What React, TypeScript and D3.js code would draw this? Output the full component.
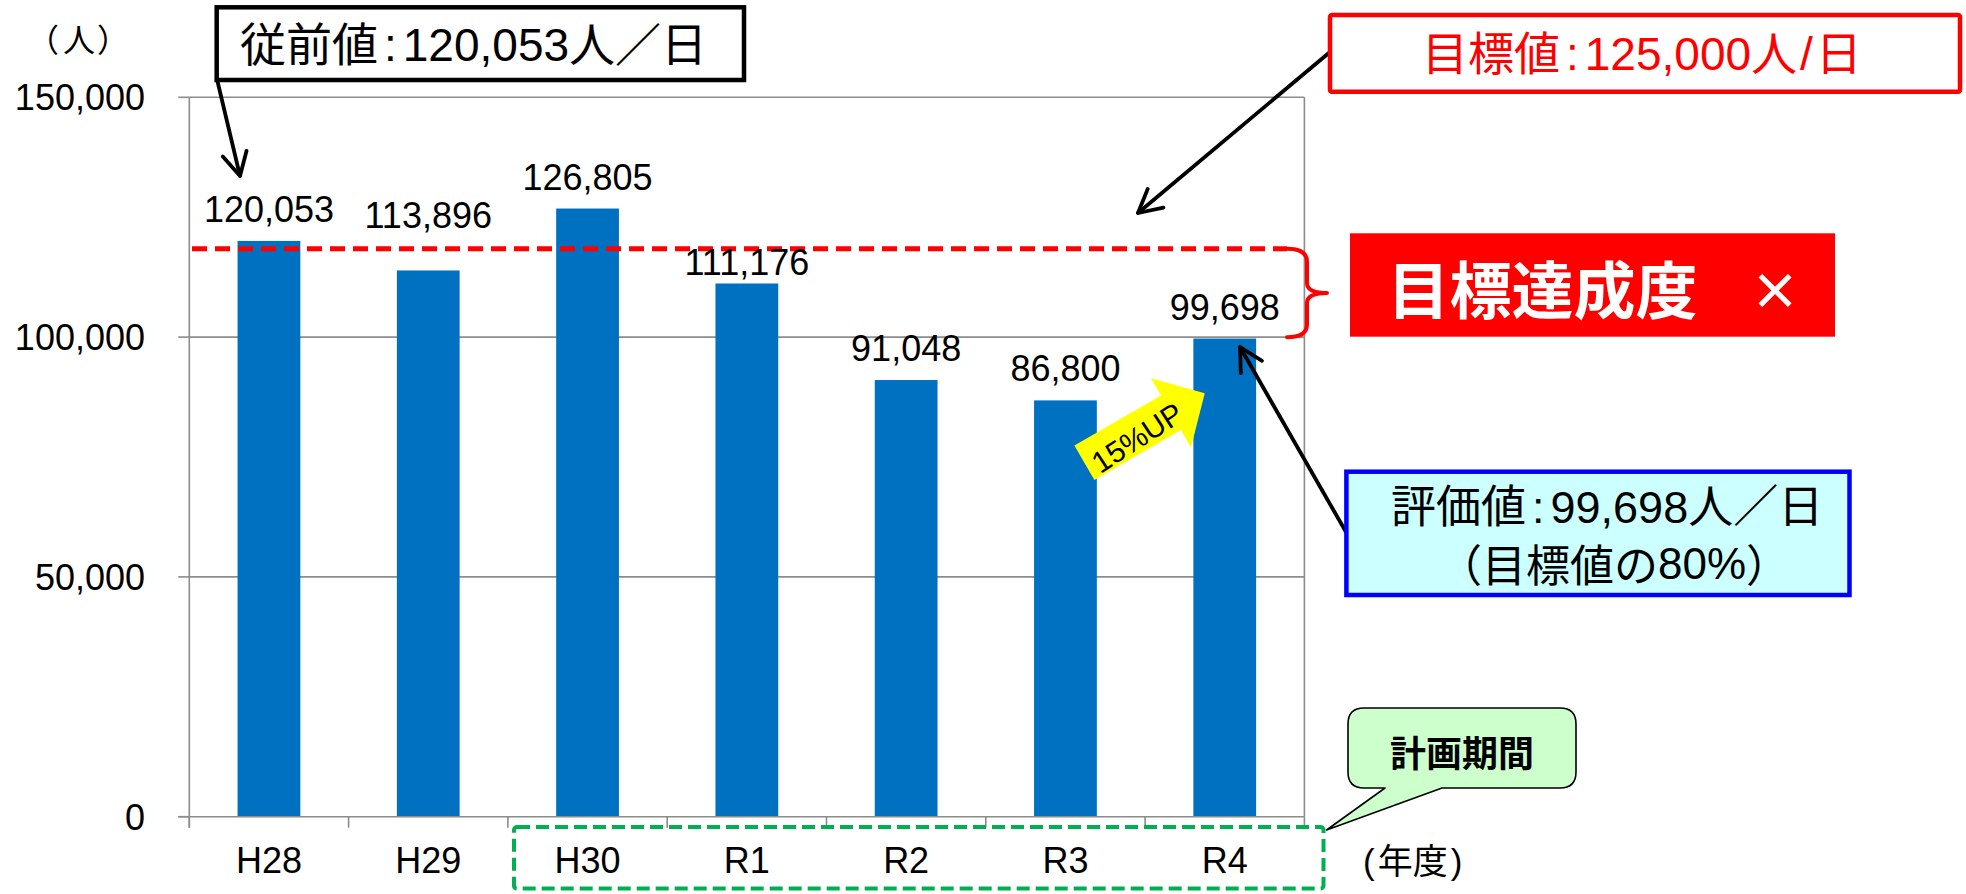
import React from "react";
import * as d3 from "d3";

const categories = ["H28", "H29", "H30", "R1", "R2", "R3", "R4"];
const values = [120053, 113896, 126805, 111176, 91048, 86800, 99698];
const yTicks = [0, 50000, 100000, 150000];
const refLineValue = 118400;

const W = 1966;
const H = 894;
const LATIN = "'Liberation Sans', Arial, 'Noto Sans CJK JP', sans-serif";
const CJK = "'Noto Sans CJK JP', 'Liberation Sans', sans-serif";

const plot = { left: 189.3, right: 1304.4, top: 97.3, bottom: 816.7 };

function Arrow({ x1, y1, x2, y2, len = 26, ang = 28, w = 3.8 }: any) {
  const a = Math.atan2(y2 - y1, x2 - x1);
  const r = (ang * Math.PI) / 180;
  const p1 = [x2 - len * Math.cos(a - r), y2 - len * Math.sin(a - r)];
  const p2 = [x2 - len * Math.cos(a + r), y2 - len * Math.sin(a + r)];
  return (
    <g stroke="#000" strokeWidth={w} fill="none" strokeLinecap="round" strokeLinejoin="round">
      <line x1={x1} y1={y1} x2={x2} y2={y2} />
      <polyline points={`${p1[0]},${p1[1]} ${x2},${y2} ${p2[0]},${p2[1]}`} />
    </g>
  );
}

export default function App() {
  const x = d3
    .scaleBand<string>()
    .domain(categories)
    .range([plot.left, plot.right])
    .paddingInner(0.606)
    .paddingOuter(0.303);
  const y = d3.scaleLinear().domain([0, 150000]).range([plot.bottom, plot.top]);
  const fmt = d3.format(",");
  const step = x.step();
  const refY = y(refLineValue);
  // manual label nudges (layout only)
  const labelShift: Record<string, number> = { H29: -23, R1: 11 };

  const grid = "#8c8c8c";

  const cx0 = 1348, cx1 = 1576, cy0 = 708, cy1 = 788, cr = 16;
  const callout = `M ${cx0 + cr} ${cy0} L ${cx1 - cr} ${cy0} Q ${cx1} ${cy0} ${cx1} ${cy0 + cr} L ${cx1} ${cy1 - cr} Q ${cx1} ${cy1} ${cx1 - cr} ${cy1} L 1442 ${cy1} L 1326.6 830 L 1385 ${cy1} L ${cx0 + cr} ${cy1} Q ${cx0} ${cy1} ${cx0} ${cy1 - cr} L ${cx0} ${cy0 + cr} Q ${cx0} ${cy0} ${cx0 + cr} ${cy0} Z`;

  const bTop = refY, bBot = 337.3, bMid = (refY + 337.3) / 2;
  const bracket = `M 1287 ${bTop} Q 1307 ${bTop} 1307 ${bTop + 13} L 1307 ${bMid - 10} Q 1307 ${bMid} 1327 ${bMid} Q 1307 ${bMid} 1307 ${bMid + 10} L 1307 ${bBot - 13} Q 1307 ${bBot} 1287 ${bBot}`;

  return (
    <svg
      width={W}
      height={H}
      style={{ position: "absolute", left: 0, top: 0, display: "block", background: "#fff" }}
    >
      <rect x={0} y={0} width={W} height={H} fill="#fff" />

      {yTicks.filter((t) => t > 0).map((t) => (
        <line key={t} x1={plot.left} x2={plot.right} y1={y(t)} y2={y(t)} stroke={grid} strokeWidth={1.6} />
      ))}
      <line x1={plot.right} x2={plot.right} y1={plot.top} y2={plot.bottom} stroke={grid} strokeWidth={1.6} />

      {categories.map((c, i) => (
        <rect
          key={c}
          x={x(c)}
          y={y(values[i])}
          width={x.bandwidth()}
          height={plot.bottom - y(values[i])}
          fill="#0070C0"
        />
      ))}

      <line x1={plot.left} x2={plot.left} y1={plot.top} y2={plot.bottom + 11} stroke={grid} strokeWidth={1.6} />
      <line x1={plot.left - 11} x2={plot.right} y1={plot.bottom} y2={plot.bottom} stroke={grid} strokeWidth={1.6} />
      {yTicks.map((t) => (
        <line key={"yt" + t} x1={plot.left - 11} x2={plot.left} y1={y(t)} y2={y(t)} stroke={grid} strokeWidth={1.6} />
      ))}
      {d3.range(categories.length + 1).map((i) => (
        <line
          key={"xt" + i}
          x1={plot.left + i * step}
          x2={plot.left + i * step}
          y1={plot.bottom}
          y2={plot.bottom + 11}
          stroke={grid}
          strokeWidth={1.6}
        />
      ))}

      {yTicks.map((t) => (
        <text key={"yl" + t} x={145} y={y(t) + 13} textAnchor="end" fontFamily={LATIN} fontSize={36} fill="#000">
          {fmt(t)}
        </text>
      ))}
      {categories.map((c) => (
        <text key={"xl" + c} x={(x(c) as number) + x.bandwidth() / 2} y={873} textAnchor="middle" fontFamily={LATIN} fontSize={36} fill="#000">
          {c}
        </text>
      ))}

      <line x1={192} x2={1287} y1={refY} y2={refY} stroke="#FF0000" strokeWidth={5} strokeDasharray="15 8" />
      <path d={bracket} fill="none" stroke="#FF0000" strokeWidth={4} strokeLinejoin="round" strokeLinecap="round" />

      {categories.map((c, i) => (
        <text
          key={"dl" + c}
          x={(x(c) as number) + x.bandwidth() / 2}
          y={y(values[i]) - 19 + (labelShift[c] || 0)}
          textAnchor="middle"
          fontFamily={LATIN}
          fontSize={36}
          fill="#000"
        >
          {fmt(values[i])}
        </text>
      ))}

      {/* unit labels */}
      <text x={27} y={52} fontFamily={CJK} fontSize={32} fill="#000">
        （<tspan dx={4}>人</tspan><tspan dx={2}>）</tspan>
      </text>
      <text x={1363} y={874} fontFamily={LATIN} fontSize={35} fill="#000">
        (<tspan dx={3} fontFamily={CJK}>年度</tspan><tspan dx={3}>)</tspan>
      </text>

      <rect x={514} y={827} width={1323.5 - 514} height={888.5 - 827} rx={3} fill="none" stroke="#00B050" strokeWidth={4} strokeDasharray="13 6" />

      <path d={callout} fill="#CCFFCC" stroke="#000" strokeWidth={1.6} strokeLinejoin="round" />
      <text x={1462} y={751} textAnchor="middle" dominantBaseline="central" fontFamily={CJK} fontWeight={700} fontSize={36}>計画期間</text>

      <g transform="translate(1145,427.8) rotate(-30)">
        <polygon points="-70,-20 30,-20 30,-40 69,0 30,40 30,20 -70,20" fill="#FFFF00" />
        <text x={-12} y={4} textAnchor="middle" dominantBaseline="central" fontFamily={LATIN} fontSize={30} fill="#000" transform="rotate(-3)">15%UP</text>
      </g>

      <Arrow x1={216.7} y1={78} x2={240} y2={176} />
      <Arrow x1={1330} y1={52} x2={1138} y2={213} />
      <Arrow x1={1346} y1={532} x2={1240} y2={347} />

      <rect x={216.7} y={7.3} width={744 - 216.7} height={80 - 7.3} fill="#fff" stroke="#000" strokeWidth={4.5} />
      <text x={240} y={61} fontFamily={LATIN} fontSize={46}>
        <tspan fontFamily={CJK}>従前値</tspan><tspan dx={6}>:</tspan><tspan dx={6}>120,053</tspan><tspan fontFamily={CJK}>人／日</tspan>
      </text>

      <rect x={1330} y={15} width={1960 - 1330} height={91.7 - 15} rx={2} fill="#fff" stroke="#FF0000" strokeWidth={4.5} />
      <text x={1422} y={70} fontFamily={LATIN} fontSize={46} fill="#FF0000">
        <tspan fontFamily={CJK}>目標値</tspan><tspan dx={6}>:</tspan><tspan dx={6}>125,000</tspan><tspan fontFamily={CJK}>人</tspan><tspan dx={3}>/</tspan><tspan dx={3} fontFamily={CJK}>日</tspan>
      </text>

      <rect x={1350} y={233.3} width={1835 - 1350} height={336.7 - 233.3} fill="#FF0000" />
      <text x={1542.5} y={287} textAnchor="middle" dominantBaseline="central" fontFamily={CJK} fontWeight={700} fontSize={62} fill="#fff">目標達成度</text>
      <text x={1775} y={287} textAnchor="middle" dominantBaseline="central" fontFamily={CJK} fontWeight={700} fontSize={50} fill="#fff">×</text>

      <rect x={1346.4} y={471.7} width={1849.5 - 1346.4} height={595 - 471.7} fill="#CCFFFF" stroke="#0000FF" strokeWidth={4.5} />
      <text x={1391} y={523} fontFamily={LATIN} fontSize={45}>
        <tspan fontFamily={CJK}>評価値</tspan><tspan dx={6}>:</tspan><tspan dx={6}>99,698</tspan><tspan fontFamily={CJK}>人／日</tspan>
      </text>
      <text x={1614} y={563} textAnchor="middle" dominantBaseline="central" fontFamily={CJK} fontSize={44}>
        （目標値の<tspan fontFamily={LATIN}>80%</tspan>）
      </text>
    </svg>
  );
}
